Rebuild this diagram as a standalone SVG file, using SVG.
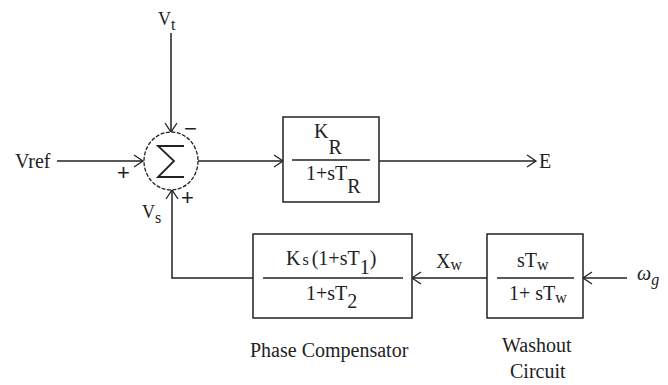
<svg xmlns="http://www.w3.org/2000/svg" width="668" height="385" viewBox="0 0 668 385">
<defs>
<marker id="arr" markerWidth="12" markerHeight="14" refX="10" refY="7" orient="auto" markerUnits="userSpaceOnUse">
<polyline points="1,1 10,7 1,13" fill="none" stroke="#222" stroke-width="1.3"/>
</marker>
<style>
.ln{fill:none;stroke:#222;stroke-width:1.5}
.bx{fill:#fff;stroke:#222;stroke-width:1.5}
.t{font-family:"Liberation Serif","Times New Roman",serif;fill:#222;font-size:20px}
.sm{font-size:16px}
.sg{font-family:"Liberation Sans",Arial,sans-serif;fill:#222;font-size:22px}
</style>
</defs>
<rect width="668" height="385" fill="#fff"/>
<g id="connectors">
<line class="ln" x1="171" y1="33" x2="171" y2="132" marker-end="url(#arr)"/>
<line class="ln" x1="57" y1="161" x2="143" y2="161" marker-end="url(#arr)"/>
<line class="ln" x1="198" y1="161" x2="283" y2="161" marker-end="url(#arr)"/>
<line class="ln" x1="379" y1="161" x2="536" y2="161" marker-end="url(#arr)"/>
<line class="ln" x1="627" y1="278" x2="583" y2="278" marker-end="url(#arr)"/>
<line class="ln" x1="487" y1="278" x2="412" y2="278" marker-end="url(#arr)"/>
<polyline class="ln" points="253,278 172,278 172,190" marker-end="url(#arr)"/>
</g>
<g id="sum">
<ellipse cx="171" cy="161" rx="27" ry="29" fill="#fff" stroke="#222" stroke-width="1.3" stroke-dasharray="4,1.5"/>
<polyline points="184,146 158,146 174,161 158,177 184,177" fill="none" stroke="#222" stroke-width="1.8"/>
<text class="sg" x="184" y="136">−</text>
<text class="sg" x="117" y="180">+</text>
<text class="sg" x="181" y="205">+</text>
</g>
<g id="labels">
<text class="t" x="158" y="25" style="font-size:18px">V<tspan class="sm" dy="5">t</tspan></text>
<text class="t" x="15" y="168">Vref</text>
<text class="t" x="142" y="218" style="font-size:18px">V<tspan class="sm" dy="5">s</tspan></text>
<text class="t" x="539" y="168">E</text>
<text class="t" x="436" y="268">X<tspan class="sm" dy="2">w</tspan></text>
<text class="t" x="637" y="280" font-style="italic">ω<tspan class="sm" dy="5">g</tspan></text>
</g>
<g id="block-KR">
<rect class="bx" x="283" y="117" width="96" height="85"/>
<line class="ln" x1="292" y1="160" x2="370" y2="160"/>
<text class="t" x="314" y="138">K<tspan dy="16">R</tspan></text>
<text class="t" x="306" y="180">1+sT<tspan dy="13">R</tspan></text>
</g>
<g id="block-phase">
<rect class="bx" x="253" y="234" width="159" height="84"/>
<line class="ln" x1="263" y1="278" x2="403" y2="278"/>
<text class="t" x="286" y="265">K<tspan class="sm" dx="2">s</tspan><tspan dx="3">(1+sT</tspan><tspan dy="9">1</tspan><tspan dy="-9">)</tspan></text>
<text class="t" x="306" y="300">1+sT<tspan dy="8">2</tspan></text>
<text class="t" x="250" y="357">Phase Compensator</text>
</g>
<g id="block-washout">
<rect class="bx" x="487" y="234" width="96" height="84"/>
<line class="ln" x1="497" y1="278" x2="574" y2="278"/>
<text class="t" x="517" y="267">sT<tspan class="sm" dy="3">w</tspan></text>
<text class="t" x="509" y="300">1+ sT<tspan class="sm" dy="3">w</tspan></text>
<text class="t" x="502" y="352">Washout</text>
<text class="t" x="510" y="378">Circuit</text>
</g>
</svg>
